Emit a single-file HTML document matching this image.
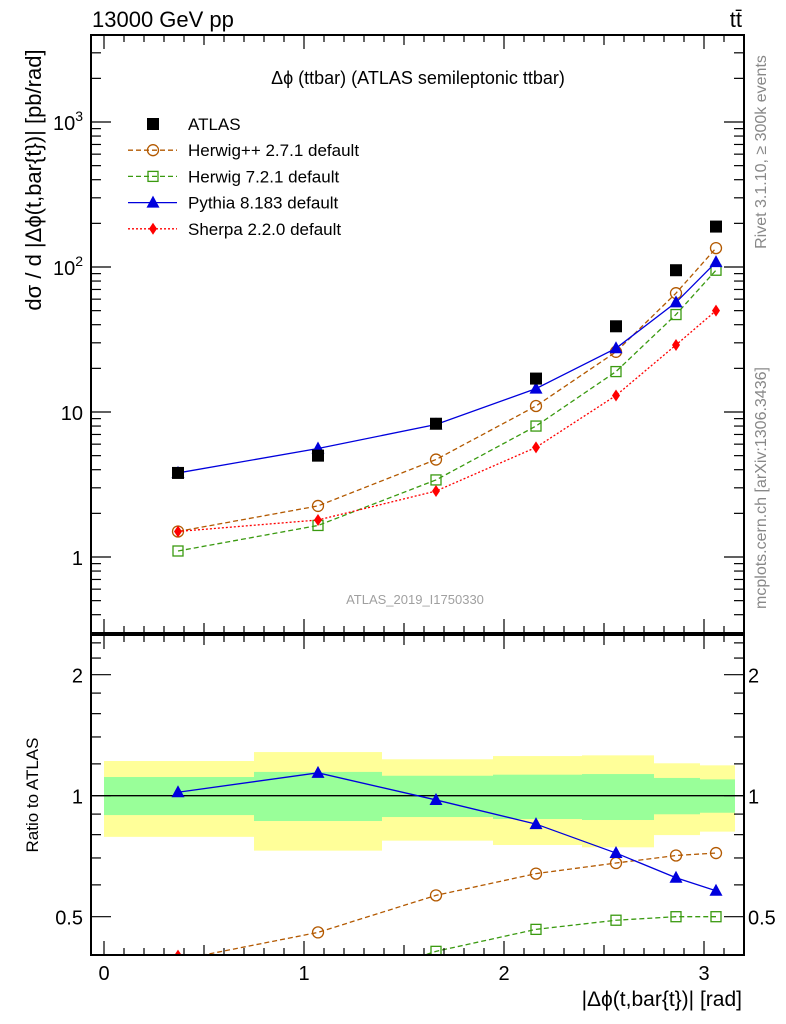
<!DOCTYPE html>
<html><head><meta charset="utf-8">
<style>
html,body{margin:0;padding:0;background:#fff;}
svg{display:block;font-family:"Liberation Sans",Arial,sans-serif;}
</style></head>
<body>
<svg id="chart" width="786" height="1024" viewBox="0 0 786 1024" xmlns="http://www.w3.org/2000/svg">
<g id="bands"></g>
<g id="ratio"></g>
<g id="main"></g>
<g id="axes"></g>
<text x="92" y="27" font-size="22">13000 GeV pp</text>
<text x="742" y="27" font-size="22" text-anchor="end">tt̄</text>
<text x="418" y="84" font-size="18" text-anchor="middle">Δϕ (ttbar) (ATLAS semileptonic ttbar)</text>
<text x="415" y="604" font-size="13" fill="#a0a0a0" text-anchor="middle">ATLAS_2019_I1750330</text>
<text transform="translate(41,180) rotate(-90)" font-size="22" text-anchor="middle">dσ / d |Δϕ(t,bar{t})| [pb/rad]</text>
<text transform="translate(38,795) rotate(-90)" font-size="17" text-anchor="middle">Ratio to ATLAS</text>
<text x="742" y="1006" font-size="21" text-anchor="end">|Δϕ(t,bar{t})| [rad]</text>
<text transform="translate(766,152) rotate(-90)" font-size="16" fill="#888" text-anchor="middle">Rivet 3.1.10, ≥ 300k events</text>
<text transform="translate(766,488) rotate(-90)" font-size="16" fill="#888" text-anchor="middle">mcplots.cern.ch [arXiv:1306.3436]</text>
<g id="legend"></g>
</svg>
<script>
const xCenters=[0.37,1.07,1.66,2.16,2.56,2.86,3.06];
const binEdges=[0,0.75,1.39,1.945,2.39,2.75,2.98,3.155];
const atlas=[3.8,5.0,8.3,17,39,95,190];
const herwigpp=[1.5,2.25,4.7,11,26,66,135];
const herwig7=[1.1,1.65,3.4,8,19,47,95];
const pythia=[3.8,5.6,8.2,14.5,27.5,57,108];
const sherpa=[1.5,1.8,2.85,5.7,13,29,50];
const ratioPythia=[1.02,1.14,0.976,0.85,0.72,0.625,0.58];
const ratioHerwigpp=[0.39,0.457,0.565,0.64,0.68,0.71,0.72];
const ratioHerwig7=[0.29,0.33,0.41,0.465,0.49,0.5,0.5];
const ratioSherpa=[0.4,0.36,0.34,0.34,0.33,0.31,0.27];
const yellowHi=[1.22,1.284,1.232,1.255,1.26,1.204,1.19];
const yellowLo=[0.79,0.73,0.773,0.754,0.744,0.798,0.814];
const greenHi=[1.113,1.146,1.121,1.128,1.132,1.107,1.098];
const greenLo=[0.895,0.865,0.885,0.875,0.87,0.899,0.907];
const xTicks=[0,1,2,3];
const mainTicks=[1,10,100,1000];
const mainTickLabels=["1","10","10²","10³"];
const ratioTicks=[0.5,1,2];
const ratioTickLabels=["0.5","1","2"];

const L=91,R=744,MT=35,MB=633,RT=635,RB=955;
const NS="http://www.w3.org/2000/svg";
const X=v=>104+v*200;
const YM=v=>557-Math.log10(v)*145;
const YR=v=>795.7-Math.log2(v)*121;
function mk(tag,attrs,parent){const e=document.createElementNS(NS,tag);for(const k in attrs)e.setAttribute(k,attrs[k]);parent.appendChild(e);return e;}
const gMain=document.getElementById('main'),gRatio=document.getElementById('ratio'),gBands=document.getElementById('bands'),gAxes=document.getElementById('axes'),gLeg=document.getElementById('legend');

const defs=mk('defs',{},document.getElementById('chart'));
const c1=mk('clipPath',{id:'cm'},defs);mk('rect',{x:L,y:MT,width:R-L,height:MB-MT},c1);
const c2=mk('clipPath',{id:'cr'},defs);mk('rect',{x:L,y:RT,width:R-L,height:RB-RT},c2);
gMain.setAttribute('clip-path','url(#cm)');gRatio.setAttribute('clip-path','url(#cr)');gBands.setAttribute('clip-path','url(#cr)');

for(let i=0;i<xCenters.length;i++){
  const x0=X(binEdges[i]),x1=X(binEdges[i+1]);
  let r=mk('rect',{x:x0,y:YR(yellowHi[i]),width:x1-x0,height:YR(yellowLo[i])-YR(yellowHi[i]),fill:'#ffff99'},gBands);
  
  
  r=mk('rect',{x:x0,y:YR(greenHi[i]),width:x1-x0,height:YR(greenLo[i])-YR(greenHi[i]),fill:'#99ff99'},gBands);
  
  
}
mk('line',{x1:L,x2:R,y1:YR(1),y2:YR(1),stroke:'#000','stroke-width':1.3},gBands);

function marker(type,x,y,color,g){
  let e;
  if(type==='sq') e=mk('rect',{x:x-6,y:y-6,width:12,height:12,fill:'#000'},g);
  else if(type==='circ') e=mk('circle',{cx:x,cy:y,r:5.5,fill:'none',stroke:color,'stroke-width':1.3},g);
  else if(type==='osq') e=mk('rect',{x:x-5,y:y-5,width:10,height:10,fill:'none',stroke:color,'stroke-width':1.3},g);
  else if(type==='tri') e=mk('polygon',{points:`${x},${y-7} ${x-6.5},${y+5} ${x+6.5},${y+5}`,fill:color},g);
  else if(type==='dia') e=mk('polygon',{points:`${x},${y-6} ${x-4},${y} ${x},${y+6} ${x+4},${y}`,fill:color},g);
  return e;
}
function series(vals,yf,color,dash,type,g,name,width){
  if(color){
    const pts=vals.map((v,i)=>X(xCenters[i])+','+yf(v)).join(' ');
    const pl=mk('polyline',{points:pts,fill:'none',stroke:color,'stroke-width':width||1.3,'stroke-dasharray':dash},g);
    
    
  }
  vals.forEach((v,i)=>{
    const m=marker(type,X(xCenters[i]),yf(v),color,g);
    
    
  });
}
series(herwigpp,YM,'#b35900','5,3','circ',gMain,'herwigpp');
series(herwig7,YM,'#3a9a10','5,3','osq',gMain,'herwig7');
series(sherpa,YM,'#ff0000','2,2','dia',gMain,'sherpa');
series(pythia,YM,'#0000dd','none','tri',gMain,'pythia');
series(atlas,YM,null,'none','sq',gMain,'atlas');

series(ratioHerwigpp,YR,'#b35900','5,3','circ',gRatio,'ratio-herwigpp');
series(ratioHerwig7,YR,'#3a9a10','5,3','osq',gRatio,'ratio-herwig7');
series(ratioSherpa,YR,'#ff0000','2,2','dia',gRatio,'ratio-sherpa');
series(ratioPythia,YR,'#0000dd','none','tri',gRatio,'ratio-pythia');

mk('rect',{x:L,y:MT,width:R-L,height:MB-MT,fill:'none',stroke:'#000','stroke-width':2},gAxes);
mk('rect',{x:L,y:RT,width:R-L,height:RB-RT,fill:'none',stroke:'#000','stroke-width':2},gAxes);
function tk(x1,y1,x2,y2){mk('line',{x1,y1,x2,y2,stroke:'#000','stroke-width':1.2},gAxes);}
for(let k=0;k<=32;k++){
  const v=k/10,x=X(v);if(x>R)break;
  const len=(k%10===0)?14:(k%5===0?10:7);
  tk(x,MT,x,MT+len);tk(x,MB,x,MB-len);tk(x,RT,x,RT+len);tk(x,RB,x,RB-len);
}
xTicks.forEach(v=>{const t=mk('text',{x:X(v),y:980,'font-size':20,'text-anchor':'middle'},gAxes);t.textContent=v;});
for(let d=-1;d<=3;d++){for(let m=1;m<10;m++){
  const v=m*Math.pow(10,d),y=YM(v);if(y<MT||y>MB)continue;
  const len=m===1?20:10;tk(L,y,L+len,y);tk(R,y,R-len,y);
}}
mainTicks.forEach((v,i)=>{
  const t=mk('text',{x:L-8,y:YM(v)+8,'font-size':20,'text-anchor':'end'},gAxes);
  if(v===1000){t.textContent='10';const s=mk('tspan',{dy:-9,'font-size':14},t);s.textContent='3';}
  else if(v===100){t.textContent='10';const s=mk('tspan',{dy:-9,'font-size':14},t);s.textContent='2';}
  else t.textContent=mainTickLabels[i];
});
[0.4,0.5,0.6,0.7,0.8,0.9,1,1.2,1.4,1.6,1.8,2,2.2,2.4].forEach(v=>{
  const y=YR(v);if(y<RT||y>RB)return;const big=ratioTicks.includes(v);const len=big?20:10;
  tk(L,y,L+len,y);tk(R,y,R-len,y);
});
ratioTicks.forEach((v,i)=>{
  let t=mk('text',{x:L-8,y:YR(v)+8,'font-size':20,'text-anchor':'end'},gAxes);t.textContent=ratioTickLabels[i];
  t=mk('text',{x:R+4,y:YR(v)+8,'font-size':20},gAxes);t.textContent=ratioTickLabels[i];
});
const legNames=["ATLAS","Herwig++ 2.7.1 default","Herwig 7.2.1 default","Pythia 8.183 default","Sherpa 2.2.0 default"];
const legCols=[null,'#b35900','#3a9a10','#0000dd','#ff0000'];
const legTypes=['sq','circ','osq','tri','dia'];
const legDash=['none','5,3','5,3','none','2,2'];
legNames.forEach((n,i)=>{
  const y=124+i*26.2;
  if(legCols[i]){mk('line',{x1:128,x2:177,y1:y,y2:y,stroke:legCols[i],'stroke-width':1.3,'stroke-dasharray':legDash[i]},gLeg);}
  marker(legTypes[i],153,y,legCols[i],gLeg);
  const t=mk('text',{x:188,y:y+6,'font-size':17},gLeg);t.textContent=n;
  
  
});
</script>
</body></html>
